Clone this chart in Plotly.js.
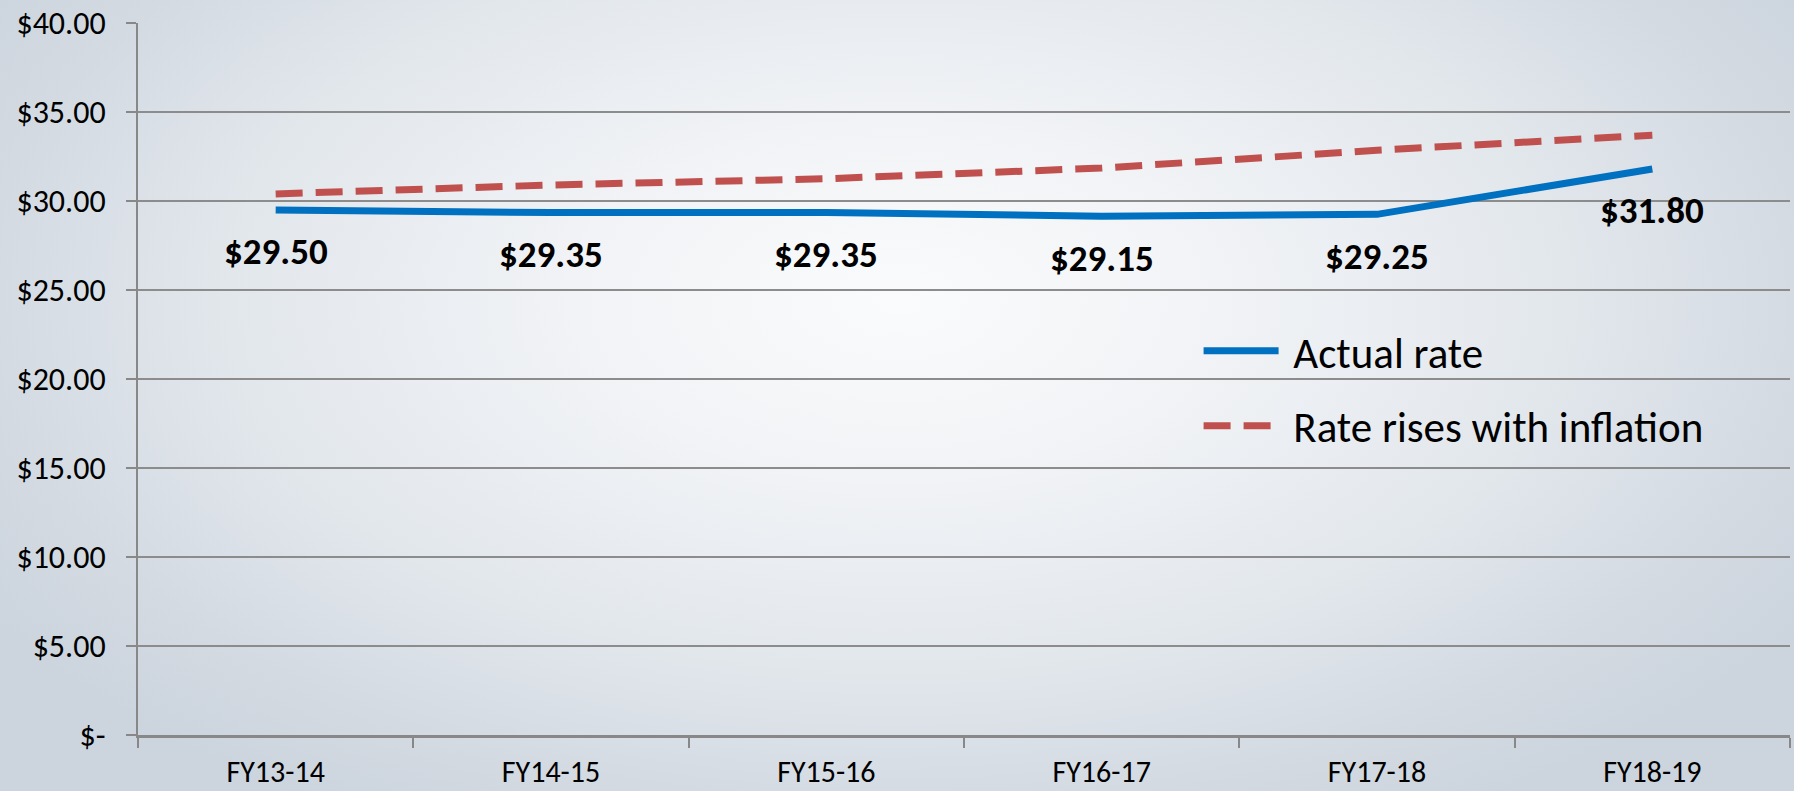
<!DOCTYPE html>
<html>
<head>
<meta charset="utf-8">
<script src="https://cdn.plot.ly/plotly-3.0.1.min.js"></script>
<style>
  html, body { margin: 0; padding: 0; }
  #chart {
    width: 1794px; height: 791px;
    background: radial-gradient(ellipse 60% 75% at 50% 38%, #fafbfc 0%, #f1f3f6 30%, #e2e7ec 62%, #d3dae2 85%, #ccd4dd 100%);
  }
</style>
</head>
<body>
<div id="chart"></div>
<script>
const categories = ["FY13-14", "FY14-15", "FY15-16", "FY16-17", "FY17-18", "FY18-19"];
const actualRate = [29.50, 29.35, 29.35, 29.15, 29.25, 31.80];
const inflationRate = [30.40, 30.90, 31.25, 31.85, 32.85, 33.70];
const actualLabels = ["$29.50", "$29.35", "$29.35", "$29.15", "$29.25", "$31.80"];
const seriesNames = ["Actual rate", "Rate rises with inflation"];
const yTickVals = [0, 5, 10, 15, 20, 25, 30, 35, 40];
const yTickText = ["$-", "$5.00", "$10.00", "$15.00", "$20.00", "$25.00", "$30.00", "$35.00", "$40.00"];

const FONT = "Carlito, 'Open Sans', sans-serif";

const traces = [
  {
    x: categories, y: actualRate, type: "scatter", mode: "lines",
    name: "\u00a0" + seriesNames[0], legendgroup: "a",
    line: { color: "#0070C0", width: 7 }
  },
  {
    x: categories, y: inflationRate, type: "scatter", mode: "lines",
    name: "\u00a0" + seriesNames[1], legendgroup: "b",
    line: { color: "#C0504D", width: 7, dash: "27px,13px" }
  }
];

const annotations = categories.map((c, i) => ({
  x: c, y: actualRate[i], xref: "x", yref: "y",
  text: actualLabels[i], showarrow: false, yshift: -42,
  font: { family: FONT, size: 37, color: "#000", weight: "bold" }
}));

const layout = {
  width: 1794, height: 791,
  margin: { l: 138, r: 4, t: 23, b: 56 },
  paper_bgcolor: "rgba(0,0,0,0)",
  plot_bgcolor: "rgba(0,0,0,0)",
  font: { family: FONT, color: "#000" },
  showlegend: true,
  legend: {
    x: 0.642, y: 0.588, xanchor: "left", yanchor: "top",
    bgcolor: "rgba(0,0,0,0)", borderwidth: 0,
    font: { family: FONT, size: 43, color: "#000" },
    traceorder: "grouped", tracegroupgap: 16, itemwidth: 75
  },
  xaxis: {
    type: "category", range: [-0.5, 5.5],
    tickson: "boundaries", ticks: "outside", ticklen: 10, tickwidth: 2, tickcolor: "#888",
    showgrid: false, zeroline: false,
    showline: true, linecolor: "#888", linewidth: 3,
    tickfont: { family: FONT, size: 30, color: "#000" },
    ticklabelstandoff: 8
  },
  yaxis: {
    range: [0, 40], tickvals: yTickVals, ticktext: yTickText,
    ticks: "outside", ticklen: 10, tickwidth: 2, tickcolor: "#888",
    showgrid: true, gridcolor: "#8c8c8c", gridwidth: 2,
    zeroline: false, showline: true, linecolor: "#888", linewidth: 2,
    tickfont: { family: FONT, size: 32, color: "#000" },
    ticklabelstandoff: 14
  },
  annotations: annotations
};

Plotly.newPlot("chart", traces, layout, { displayModeBar: false, staticPlot: true });
</script>
</body>
</html>
